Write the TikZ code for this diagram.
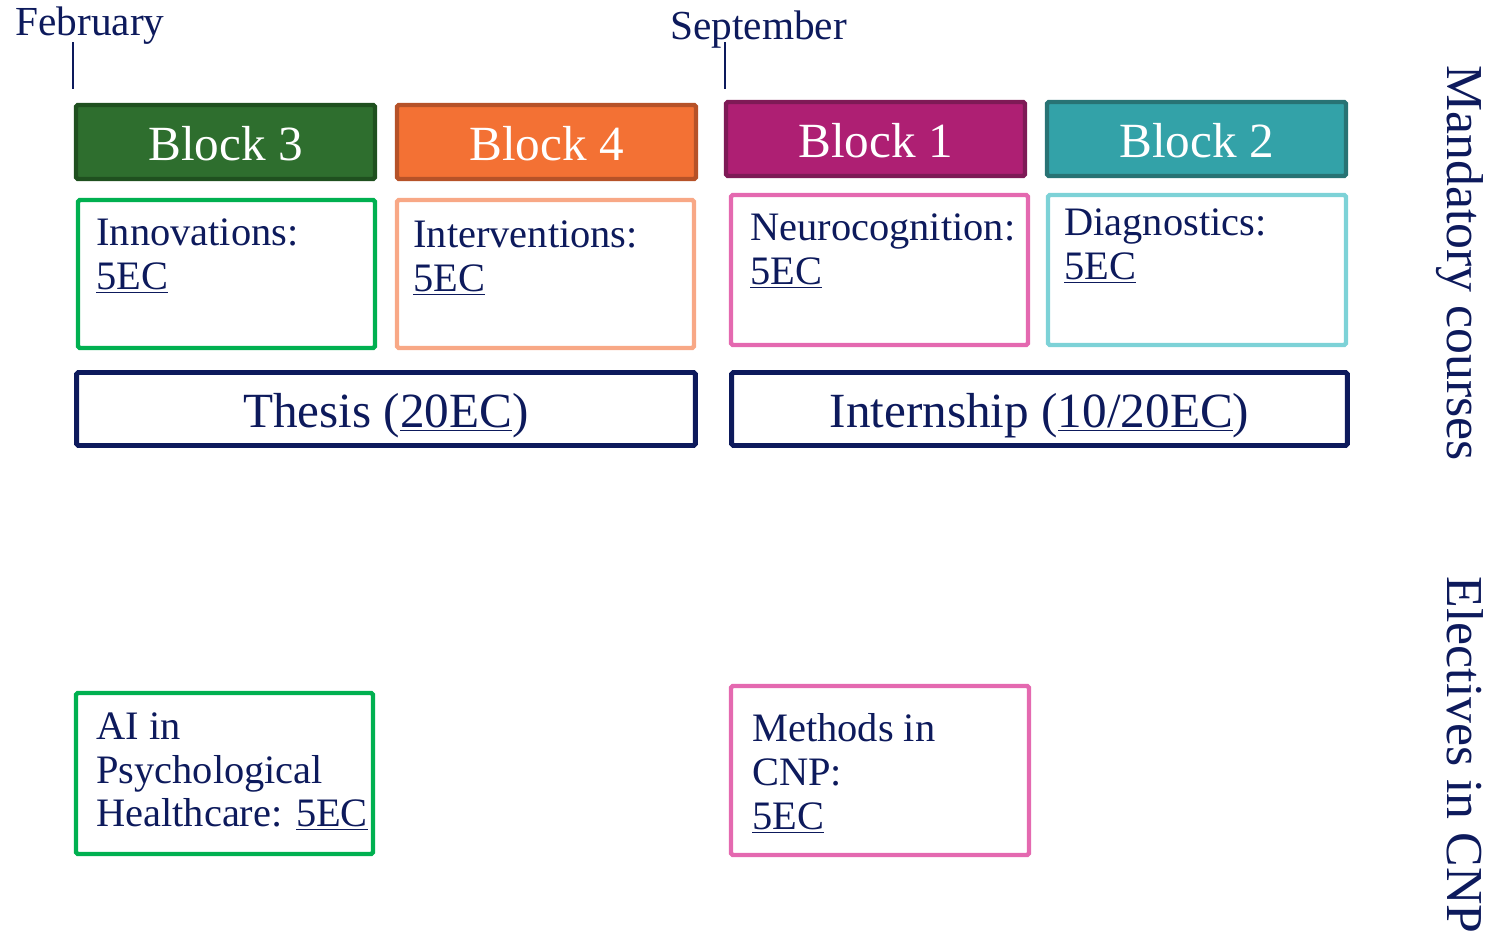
\documentclass[tikz,border=0pt]{standalone}
\usepackage{fontspec}
\setmainfont{Liberation Serif}
\usetikzlibrary{positioning}

\definecolor{navy}{RGB}{13,26,92}
\definecolor{bthree}{RGB}{46,110,46}
\definecolor{bthreedark}{RGB}{31,80,31}
\definecolor{bfour}{RGB}{243,113,52}
\definecolor{bfourdark}{RGB}{182,82,40}
\definecolor{bone}{RGB}{174,31,115}
\definecolor{bonedark}{RGB}{126,26,86}
\definecolor{btwo}{RGB}{51,162,168}
\definecolor{btwodark}{RGB}{40,115,116}
\definecolor{cgreen}{RGB}{0,176,80}
\definecolor{cpeach}{RGB}{248,168,134}
\definecolor{cpink}{RGB}{228,105,176}
\definecolor{ccyan}{RGB}{125,210,215}

\begin{document}
\begin{tikzpicture}[x=0.02cm,y=-0.02cm,
    blockbox/.style={fill=#1, draw=#1dark, line width=2.5pt, rounded corners=1pt,
      minimum width=5.98cm, minimum height=1.48cm, inner sep=0pt, text=white,
      font=\fontsize{28}{30}\selectfont, text height=21.5pt, text depth=0pt},
    coursebox/.style={draw=#1, line width=2.5pt, rounded corners=1pt,
      minimum width=5.94cm, inner sep=0pt},
    coursetext/.style={anchor=north west, inner sep=0pt, align=left, text=navy,
      font=\fontsize{23}{25.5}\selectfont},
    thesisbox/.style={draw=navy, line width=2.8pt, rounded corners=1pt,
      minimum height=1.46cm, inner sep=0pt, text=navy,
      font=\fontsize{28}{30}\selectfont, text height=20.5pt, text depth=0pt},
    monthlabel/.style={anchor=base west, inner sep=0pt, text=navy,
      font=\fontsize{23.5}{26}\selectfont},
    sidelabel/.style={anchor=base, rotate=-90, inner sep=0pt, text=navy,
      font=\fontsize{29.5}{32}\selectfont}]
  \useasboundingbox (0,0) rectangle (1488,934);

  % Monate mit Strich
  \node[monthlabel] (feb) at (15,35) {February};
  \node[monthlabel] (sep) at (670,39) {September};
  \coordinate (febtop) at (73,42);
  \coordinate (febbot) at (73,89);
  \coordinate (septop) at (725,42);
  \coordinate (sepbot) at (725,89);
  \draw[navy, line width=1.1pt] (febtop) -- (febbot);
  \draw[navy, line width=1.1pt] (septop) -- (sepbot);

  % Blocks
  \node[blockbox=bthree] (block3) at (225.5,142) {Block 3};
  \node[blockbox=bfour] (block4) at (546.5,142) {Block 4};
  \node[blockbox=bone] (block1) at (875.5,139) {Block 1};
  \node[blockbox=btwo] (block2) at (1196.5,139) {Block 2};

  % Pflichtkurse
  \node[coursebox=cgreen, minimum height=2.96cm] (innov) at (226.5,274) {};
  \node[coursebox=cpeach, minimum height=2.96cm] (interv) at (545.5,274) {};
  \node[coursebox=cpink, minimum height=3.0cm] (neuro) at (879.5,270) {};
  \node[coursebox=ccyan, minimum height=3.0cm, minimum width=5.96cm] (diag) at (1197,270) {};
  \node[coursetext] (innovtxt) at (96,218) {Innovations:\\\underline{5EC}};
  \node[coursetext] (intervtxt) at (413,220) {Interventions:\\\underline{5EC}};
  \node[coursetext] (neurotxt) at (750,213) {Neurocognition:\\\underline{5EC}};
  \node[coursetext] (diagtxt) at (1064,208) {Diagnostics:\\\underline{5EC}};

  % Thesis und Praktikum
  \node[thesisbox, minimum width=12.38cm] (thesis) at (386,409) {Thesis (\underline{20EC})};
  \node[thesisbox, minimum width=12.32cm] (intern) at (1039.5,409) {Internship (\underline{10/20EC})};

  % Wahlfaecher
  \node[coursebox=cgreen, minimum height=3.22cm] (aipsy) at (224.5,773.5) {};
  \node[coursebox=cpink, minimum height=3.38cm, minimum width=5.96cm] (methods) at (880,770.5) {};
  \node[coursetext, font=\fontsize{23}{25}\selectfont] (aipsytxt) at (96,712)
    {AI in\\Psychological\\Healthcare: \underline{5EC}};
  \node[coursetext, font=\fontsize{23}{25}\selectfont] (methodstxt) at (752,713)
    {Methods in\\CNP:\\\underline{5EC}};

  % Seitenbeschriftung
  \node[sidelabel] (mand) at (1447,263) {Mandatory courses};
  \node[sidelabel] (elect) at (1447,755) {Electives in CNP};
\end{tikzpicture}
\end{document}
